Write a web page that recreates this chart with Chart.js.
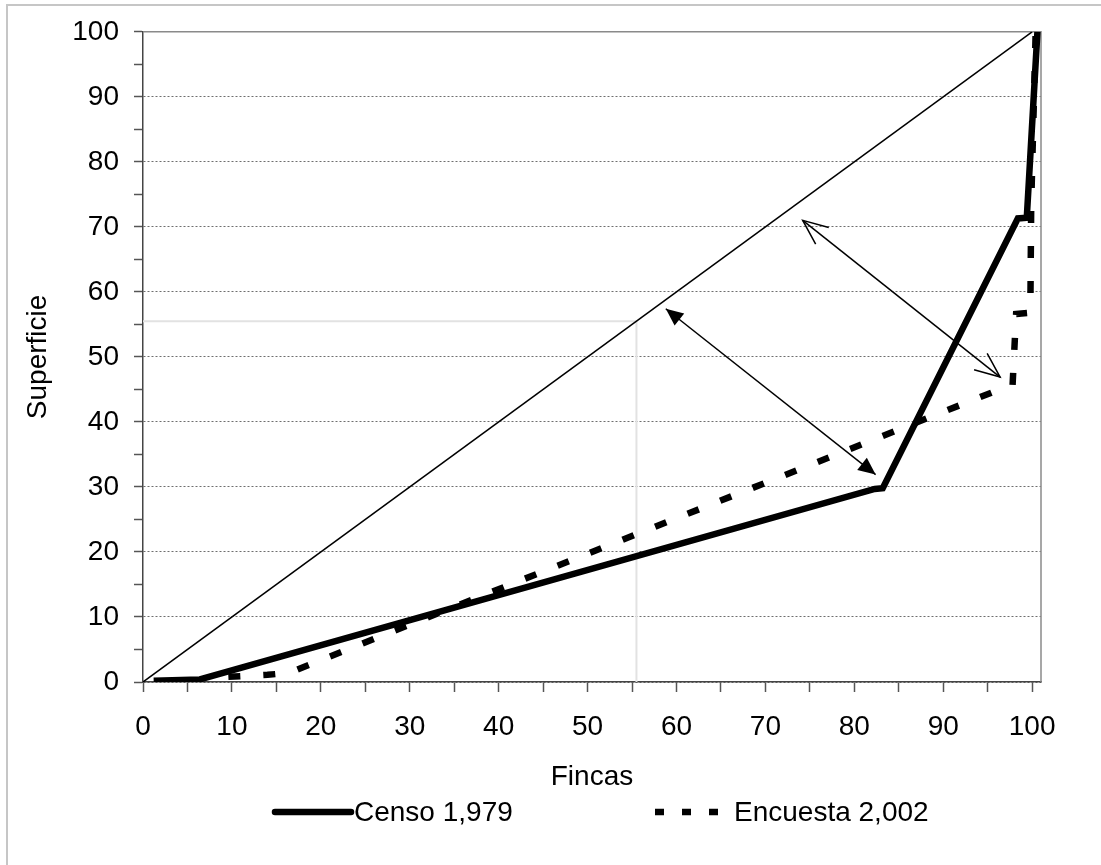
<!DOCTYPE html>
<html>
<head>
<meta charset="utf-8">
<title>Curva de Lorenz - Fincas / Superficie</title>
<script src="https://cdn.jsdelivr.net/npm/chart.js@4.4.1/dist/chart.umd.min.js"></script>
<style>
  html, body { margin: 0; padding: 0; background: #fff; overflow: hidden; }
  .frame { position: absolute; left: 6px; top: 4px; width: 1300px; height: 1100px; border: 2px solid #c6c6c6; }
  .wrap { position: absolute; left: 0; top: 0; width: 1101px; height: 865px; }
</style>
</head>
<body>
<div class="frame"></div>
<div class="wrap"><canvas id="chart" width="1101" height="865"></canvas></div>
<script>
// Lorenz curves: share of farms (Fincas) vs share of land (Superficie).
// Values, in percent.
const fincasCenso = [1.2, 6.4, 82.3, 83.2, 98.4, 99.4, 100.6];
const superficieCenso = [0.2, 0.4, 29.7, 29.8, 71.3, 71.4, 100];

const fincasEncuesta = [9.6, 14.0, 16.4, 96.7, 97.8, 98.2, 99.8, 99.9, 100.4];
const superficieEncuesta = [0.8, 1.1, 1.4, 45.2, 45.6, 56.6, 56.8, 73.5, 100];

// Line of equality and the grey guide from the point on it.
const fincasIgualdad = [0, 100];
const superficieIgualdad = [0, 100];
const fincasGuia = [0, 55.5, 55.5];
const superficieGuia = [55.5, 55.5, 0];

// Two double headed arrows marking the gap to the diagonal.
const fincasFlechaA = [58.8, 82.4];
const superficieFlechaA = [57.4, 31.9];
const fincasFlechaB = [74.2, 96.4];
const superficieFlechaB = [71.0, 46.9];

// Ticks every 5, labelled every 10, on both axes.
const tickValues = [0, 5, 10, 15, 20, 25, 30, 35, 40, 45, 50, 55, 60, 65, 70, 75, 80, 85, 90, 95, 100];

const FONT = "'Liberation Sans', Arial, sans-serif";
const toPoints = (xs, ys) => xs.map((x, i) => ({ x, y: ys[i] }));
const isMajor = v => v % 10 === 0;

// Grey top/right edge of the plot area (axes themselves are darker).
const plotFrame = {
  id: 'plotFrame',
  beforeDatasetsDraw(chart) {
    const { ctx, chartArea: a } = chart;
    ctx.save();
    ctx.strokeStyle = '#8a8a8a';
    ctx.lineWidth = 1.5;
    ctx.beginPath();
    ctx.moveTo(a.left, a.top);
    ctx.lineTo(a.right, a.top);
    ctx.lineTo(a.right, a.bottom);
    ctx.stroke();
    ctx.restore();
  },
};

// Arrow heads at both ends of every dataset flagged with `arrow`.
function drawHead(ctx, tip, from, style) {
  const ang = Math.atan2(tip.y - from.y, tip.x - from.x);
  const len = style === 'filled' ? 19 : 27;
  const spread = style === 'filled' ? 0.42 : 0.40;
  const p1 = { x: tip.x - len * Math.cos(ang - spread), y: tip.y - len * Math.sin(ang - spread) };
  const p2 = { x: tip.x - len * Math.cos(ang + spread), y: tip.y - len * Math.sin(ang + spread) };
  ctx.beginPath();
  if (style === 'filled') {
    ctx.moveTo(tip.x, tip.y);
    ctx.lineTo(p1.x, p1.y);
    ctx.lineTo(p2.x, p2.y);
    ctx.closePath();
    ctx.fill();
  } else {
    ctx.moveTo(p1.x, p1.y);
    ctx.lineTo(tip.x, tip.y);
    ctx.lineTo(p2.x, p2.y);
    ctx.stroke();
  }
}

const arrowHeads = {
  id: 'arrowHeads',
  afterDatasetsDraw(chart) {
    const { ctx } = chart;
    chart.data.datasets.forEach((ds, i) => {
      if (!ds.arrow) return;
      const pts = chart.getDatasetMeta(i).data;
      const a = pts[0], b = pts[pts.length - 1];
      ctx.save();
      ctx.fillStyle = ds.borderColor;
      ctx.strokeStyle = ds.borderColor;
      ctx.lineWidth = ds.borderWidth;
      ctx.lineJoin = 'miter';
      drawHead(ctx, a, b, ds.arrow);
      drawHead(ctx, b, a, ds.arrow);
      ctx.restore();
    });
  },
};

// Legend row under the x title, with a long line sample like Excel draws.
const lineLegend = {
  id: 'lineLegend',
  afterDraw(chart, args, opts) {
    const { ctx } = chart;
    ctx.save();
    ctx.font = `${opts.fontSize}px ${FONT}`;
    ctx.textBaseline = 'middle';
    ctx.fillStyle = '#000';
    ctx.strokeStyle = '#000';
    for (const it of opts.items) {
      const ds = chart.data.datasets[it.dataset];
      ctx.beginPath();
      ctx.lineWidth = ds.borderWidth;
      ctx.lineCap = it.cap;
      ctx.setLineDash(it.dash || []);
      ctx.moveTo(it.x, opts.y);
      ctx.lineTo(it.x + opts.sample, opts.y);
      ctx.stroke();
      ctx.setLineDash([]);
      ctx.fillText(ds.label, it.x + opts.sample + opts.gap, opts.y + 1);
    }
    ctx.restore();
  },
};

const axisTicks = {
  color: '#000',
  font: { family: FONT, size: 28 },
  autoSkip: false,
  maxRotation: 0,
  callback: v => (isMajor(v) ? String(v) : ''),
};

new Chart(document.getElementById('chart'), {
  type: 'line',
  data: {
    datasets: [
      {
        label: 'Censo 1,979',
        data: toPoints(fincasCenso, superficieCenso),
        borderColor: '#000',
        borderWidth: 6.5,
        borderJoinStyle: 'miter',
        pointRadius: 0,
        fill: false,
        order: 1,
      },
      {
        label: 'Encuesta 2,002',
        data: toPoints(fincasEncuesta, superficieEncuesta),
        borderColor: '#000',
        borderWidth: 6.5,
        borderDash: [12, 23],
        borderCapStyle: 'butt',
        borderJoinStyle: 'miter',
        pointRadius: 0,
        fill: false,
        order: 2,
      },
      {
        label: 'Igualdad',
        data: toPoints(fincasIgualdad, superficieIgualdad),
        borderColor: '#000',
        borderWidth: 1.5,
        pointRadius: 0,
        fill: false,
        order: 3,
      },
      {
        label: 'Guia',
        data: toPoints(fincasGuia, superficieGuia),
        borderColor: '#e2e2e2',
        borderWidth: 2,
        pointRadius: 0,
        fill: false,
        order: 6,
      },
      {
        label: 'Flecha A',
        data: toPoints(fincasFlechaA, superficieFlechaA),
        borderColor: '#000',
        borderWidth: 1.5,
        pointRadius: 0,
        fill: false,
        arrow: 'filled',
        order: 4,
      },
      {
        label: 'Flecha B',
        data: toPoints(fincasFlechaB, superficieFlechaB),
        borderColor: '#000',
        borderWidth: 1.5,
        pointRadius: 0,
        fill: false,
        arrow: 'open',
        order: 4,
      },
    ],
  },
  options: {
    responsive: false,
    animation: false,
    events: [],
    layout: { padding: { left: 10, top: 30, right: 60, bottom: 0 } },
    plugins: {
      legend: { display: false },
      tooltip: { enabled: false },
      lineLegend: {
        y: 812,
        fontSize: 28,
        sample: 76,
        gap: 3,
        items: [
          { dataset: 0, x: 275, cap: 'round' },
          { dataset: 1, x: 655, cap: 'butt', dash: [9, 18] },
        ],
      },
    },
    scales: {
      x: {
        type: 'linear',
        min: 0,
        max: 101,
        afterBuildTicks: s => { s.ticks = tickValues.map(v => ({ value: v })); },
        afterFit: s => { s.height = 865 - 682; },
        ticks: { ...axisTicks, padding: 18 },
        grid: { drawOnChartArea: false, tickColor: '#555', tickLength: 10, tickWidth: 1.5 },
        border: { color: '#444', width: 1.5 },
        title: {
          display: true,
          text: 'Fincas',
          color: '#000',
          font: { family: FONT, size: 28 },
          padding: { top: 0, bottom: 71 },
        },
      },
      y: {
        type: 'linear',
        min: 0,
        max: 100,
        afterBuildTicks: s => { s.ticks = tickValues.map(v => ({ value: v })); },
        afterFit: s => { s.width = 133; },
        ticks: { ...axisTicks, padding: 15 },
        grid: {
          color: c => (c.tick && isMajor(c.tick.value) ? '#6e6e6e' : 'rgba(0,0,0,0)'),
          lineWidth: 1,
          tickColor: '#555',
          tickLength: 9,
          tickWidth: 1.5,
        },
        border: { color: '#444', width: 1.5, dash: [2, 2] },
        title: {
          display: true,
          text: 'Superficie',
          color: '#000',
          font: { family: FONT, size: 28 },
          padding: { top: 11, bottom: 0 },
        },
      },
    },
  },
  plugins: [plotFrame, arrowHeads, lineLegend],
});
</script>
</body>
</html>
